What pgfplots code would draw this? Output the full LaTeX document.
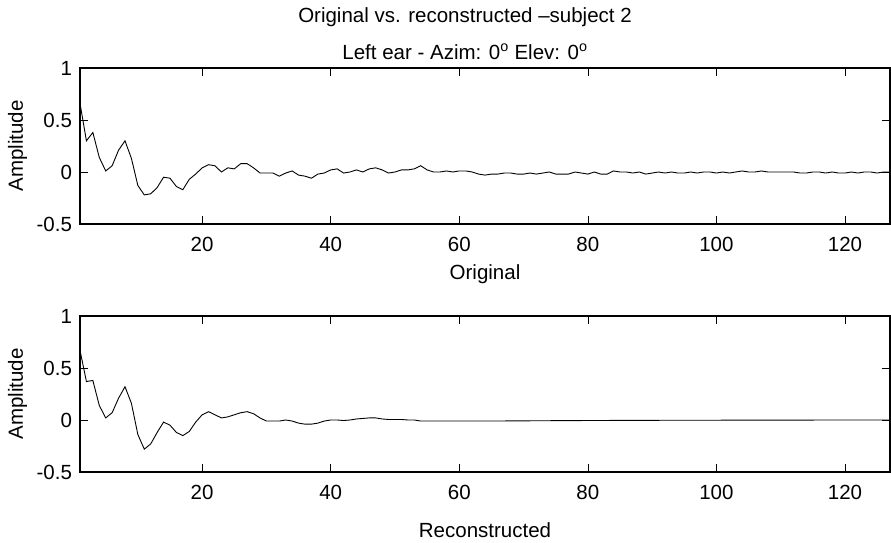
\documentclass[border=0pt]{standalone}
\usepackage{pgfplots}
\pgfplotsset{compat=1.18}
\usepackage{fontspec}
\setmainfont{Liberation Sans}
\begin{document}
\fontsize{20.5}{24}\selectfont
\begin{tikzpicture}
\path[use as bounding box] (0pt,0pt) rectangle (891pt,543pt);
\pgfplotsset{
  mystyle/.style={
    scale only axis,
    width=810pt, height=156pt,
    xmin=1, xmax=127, ymin=-0.5, ymax=1,
    xtick={20,40,60,80,100,120},
    xticklabels={20,40,60,80,100,120},
    ytick={-0.5,0,0.5,1},
    yticklabels={-0.5,0,0.5,1},
    tick align=inside,
    major tick length=8pt,
    every tick/.style={black, line width=0.6pt},
    axis line style={black, line width=1.3pt},
    xticklabel style={anchor=center, yshift=-20pt, font=\fontsize{20.5}{24}\selectfont},
    yticklabel style={anchor=east, xshift=-1pt, font=\fontsize{20.5}{24}\selectfont},
    ylabel={Amplitude},
    every axis y label/.style={at={(axis description cs:0,0.5)}, xshift=-62.5pt, anchor=center, rotate=90, font=\fontsize{20.5}{24}\selectfont},
    clip=false,
  }
}
\begin{axis}[mystyle, at={(80pt,319pt)}, anchor=south west,
  every axis x label/.style={at={(axis description cs:0.5,0)}, anchor=center, yshift=-50pt, font=\fontsize{20.5}{24}\selectfont},
  xlabel={Original}]
\addplot[black, line width=0.9pt, mark=none] coordinates {
(1,0.66)(2,0.30)(3,0.38)(4,0.14)(5,0.01)(6,0.06)(7,0.21)(8,0.30)(9,0.13)(10,-0.13)
(11,-0.22)(12,-0.21)(13,-0.15)(14,-0.05)(15,-0.06)(16,-0.14)(17,-0.17)(18,-0.07)(19,-0.02)(20,0.04)
(21,0.07)(22,0.06)(23,0.00)(24,0.04)(25,0.03)(26,0.08)(27,0.08)(28,0.04)(29,-0.01)(30,-0.01)
(31,-0.01)(32,-0.04)(33,-0.01)(34,0.01)(35,-0.03)(36,-0.04)(37,-0.06)(38,-0.02)(39,-0.01)(40,0.02)
(41,0.03)(42,-0.01)(43,0.00)(44,0.02)(45,0.00)(46,0.03)(47,0.04)(48,0.02)(49,-0.01)(50,0.00)
(51,0.02)(52,0.02)(53,0.03)(54,0.06)(55,0.02)(56,0.00)(57,0.00)(58,0.01)(59,0.00)(60,0.01)
(61,0.01)(62,0.00)(63,-0.02)(64,-0.03)(65,-0.02)(66,-0.02)(67,-0.01)(68,-0.01)(69,-0.02)(70,-0.02)
(71,-0.01)(72,-0.02)(73,-0.01)(74,0.00)(75,-0.02)(76,-0.02)(77,-0.02)(78,0.00)(79,-0.01)(80,-0.02)
(81,0.00)(82,-0.02)(83,-0.02)(84,0.01)(85,0.00)(86,0.00)(87,-0.01)(88,0.00)(89,-0.02)(90,-0.01)
(91,0.00)(92,-0.01)(93,0.00)(94,-0.01)(95,-0.01)(96,0.00)(97,-0.01)(98,0.00)(99,0.00)(100,-0.01)
(101,0.00)(102,-0.01)(103,0.00)(104,0.01)(105,0.00)(106,0.00)(107,0.01)(108,0.00)(109,0.00)(110,0.00)
(111,0.00)(112,0.00)(113,-0.01)(114,-0.01)(115,0.00)(116,0.00)(117,-0.01)(118,0.00)(119,-0.01)(120,-0.01)
(121,0.00)(122,-0.01)(123,0.00)(124,0.00)(125,-0.01)(126,0.00)(127,0.00)
};
\end{axis}
\begin{axis}[mystyle, at={(80pt,71pt)}, anchor=south west,
  every axis x label/.style={at={(axis description cs:0.5,0)}, anchor=center, yshift=-58pt, font=\fontsize{20.5}{24}\selectfont},
  xlabel={Reconstructed}]
\addplot[black, line width=0.9pt, mark=none] coordinates {
(1,0.67)(2,0.37)(3,0.38)(4,0.14)(5,0.02)(6,0.07)(7,0.21)(8,0.32)(9,0.16)(10,-0.14)
(11,-0.28)(12,-0.23)(13,-0.12)(14,-0.02)(15,-0.05)(16,-0.12)(17,-0.15)(18,-0.11)(19,-0.02)(20,0.05)
(21,0.08)(22,0.05)(23,0.02)(24,0.03)(25,0.05)(26,0.07)(27,0.08)(28,0.06)(29,0.02)(30,-0.01)
(31,-0.01)(32,-0.01)(33,0.00)(34,-0.01)(35,-0.03)(36,-0.04)(37,-0.04)(38,-0.03)(39,-0.01)(40,0.00)
(41,0.00)(42,-0.005)(43,0.00)(44,0.01)(45,0.015)(46,0.02)(47,0.02)(48,0.01)(49,0.005)(50,0.005)
(51,0.005)(52,0.00)(53,0.00)(54,-0.01)(55,-0.01)(60,-0.01)(65,-0.01)(70,-0.008)(80,-0.005)(90,-0.003)
(100,-0.002)(110,-0.001)(120,0.00)(127,0.00)
};
\end{axis}
\node[anchor=center] at (465pt,526pt) {Original vs. reconstructed –subject 2};
\node[anchor=center] at (465pt,491pt) {Left ear - Azim: 0\textsuperscript{o} Elev: 0\textsuperscript{o}};
\end{tikzpicture}
\end{document}
